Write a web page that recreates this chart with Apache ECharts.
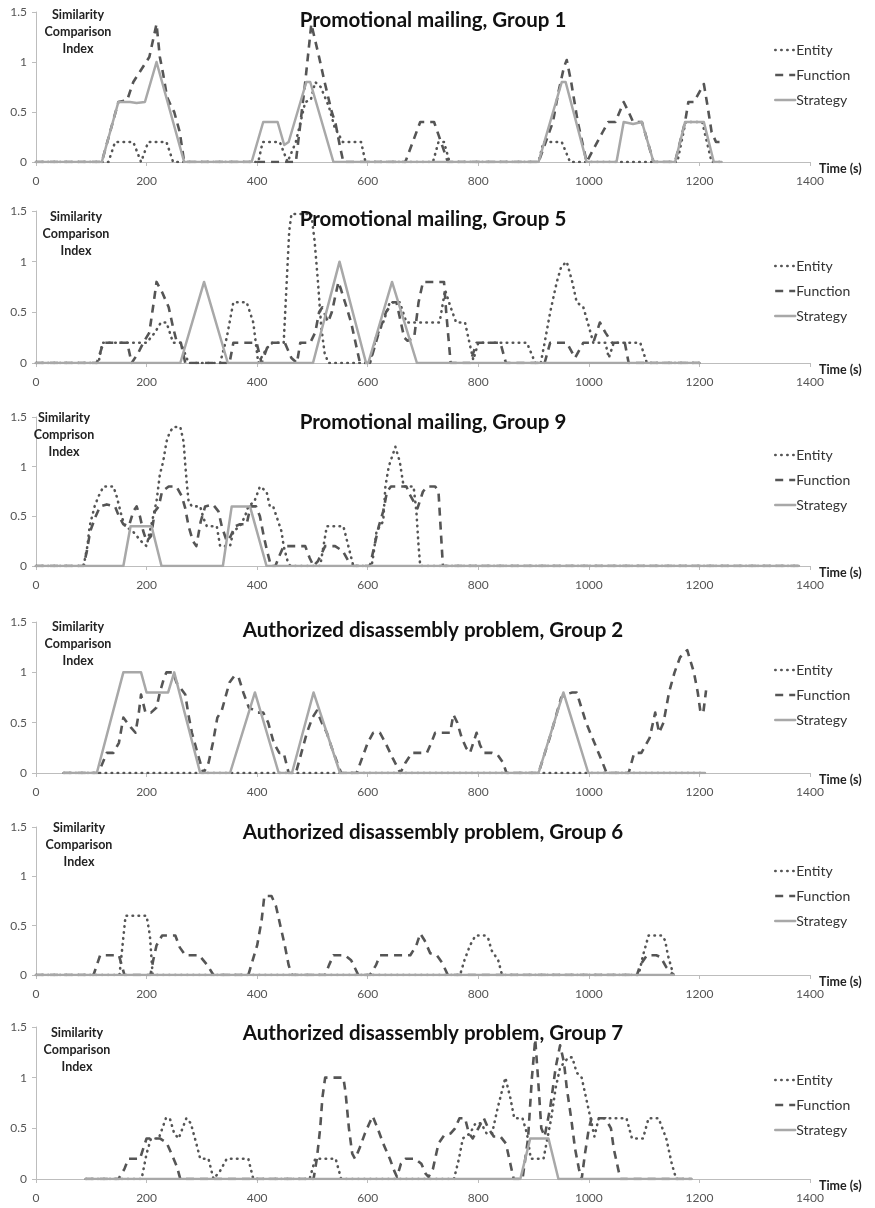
<!DOCTYPE html>
<html><head><meta charset="utf-8">
<script src="https://cdn.jsdelivr.net/npm/echarts@6/dist/echarts.min.js"></script>
<style>html,body{margin:0;padding:0;background:#fff}#c{width:875px;height:1208px}</style>
</head><body><div id="c"></div>
<script>
// ---------- text ----------
const panelTitles = [
  'Promotional mailing, Group 1',
  'Promotional mailing, Group 5',
  'Promotional mailing, Group 9',
  'Authorized disassembly problem, Group 2',
  'Authorized disassembly problem, Group 6',
  'Authorized disassembly problem, Group 7'
];
const yAxisNames = [
  'Similarity\nComparison\nIndex',
  'Similarity\nComparison\nIndex',
  'Similarity\nComprison\nIndex',
  'Similarity\nComparison\nIndex',
  'Similarity\nComparison\nIndex',
  'Similarity\nComparison\nIndex'
];
const seriesNames = ['Entity', 'Function', 'Strategy'];
const xAxisName = 'Time (s)';
const xTicks = [0, 200, 400, 600, 800, 1000, 1200, 1400];
const yTicks = [0, 0.5, 1, 1.5];

// ---------- data: [time (s), index] ----------
// Promotional mailing, Group 1
const g1Entity = [[0,0],[131,0],[143,0.2],[176,0.2],[190,0],[203,0.2],[236,0.2],[248,0],[402,0],[410,0.2],[441,0.2],[455,0],[470,0.2],[487,0.6],[497,0.62],[505,0.8],[515,0.75],[530,0.55],[540,0.35],[555,0.2],[588,0.2],[596,0],[718,0],[728,0.2],[738,0.2],[748,0],[909,0],[918,0.2],[951,0.2],[966,0],[1160,0],[1175,0.4],[1205,0.4],[1222,0],[1240,0]];
const g1Function = [[0,0],[119,0],[149,0.6],[165,0.62],[176,0.8],[205,1.05],[218,1.38],[224,1.05],[230,0.88],[237,0.65],[245,0.55],[250,0.5],[260,0.3],[268,0],[470,0],[487,0.8],[498,1.38],[512,1.05],[522,0.8],[535,0.5],[542,0.38],[550,0.15],[556,0],[668,0],[695,0.4],[720,0.4],[745,0],[909,0],[935,0.4],[945,0.7],[955,0.95],[960,1.02],[968,0.8],[980,0.4],[996,0],[1025,0.3],[1035,0.4],[1048,0.4],[1063,0.6],[1072,0.5],[1080,0.4],[1096,0.4],[1117,0],[1156,0],[1174,0.4],[1180,0.6],[1190,0.6],[1208,0.78],[1215,0.55],[1222,0.3],[1230,0.2],[1240,0.2]];
const g1Strategy = [[0,0],[119,0],[149,0.6],[170,0.6],[182,0.59],[197,0.6],[218,1.0],[268,0],[390,0],[411,0.4],[437,0.4],[449,0.17],[457,0.2],[489,0.8],[496,0.8],[538,0],[909,0],[951,0.8],[958,0.8],[996,0],[1050,0],[1063,0.4],[1080,0.38],[1096,0.4],[1117,0],[1156,0],[1174,0.4],[1208,0.4],[1226,0],[1240,0]];

// Promotional mailing, Group 5
const g5Entity = [[0,0],[113,0],[120,0.2],[200,0.2],[215,0.3],[226,0.4],[236,0.4],[248,0.2],[262,0.2],[276,0],[333,0],[345,0.25],[357,0.6],[381,0.6],[393,0.4],[402,0],[418,0.15],[428,0.2],[448,0.2],[458,1.3],[462,1.47],[498,1.47],[504,1.2],[510,0.8],[516,0.35],[522,0.1],[529,0],[604,0],[615,0.25],[628,0.4],[640,0.6],[658,0.6],[670,0.4],[730,0.4],[740,0.72],[750,0.55],[760,0.4],[776,0.4],[784,0.2],[791,0.03],[800,0.2],[888,0.2],[903,0],[913,0],[920,0.2],[930,0.5],[942,0.8],[950,0.95],[960,1.0],[970,0.8],[978,0.6],[990,0.55],[998,0.4],[1008,0.2],[1030,0.2],[1036,0.05],[1045,0.2],[1093,0.2],[1105,0],[1200,0]];
const g5Function = [[0,0],[110,0],[122,0.2],[165,0.2],[173,0],[185,0.1],[194,0.2],[205,0.3],[213,0.6],[218,0.8],[228,0.7],[240,0.55],[248,0.35],[255,0.2],[262,0.2],[270,0],[350,0],[357,0.2],[399,0.2],[408,0],[418,0.15],[426,0.2],[450,0.2],[462,0.05],[472,0],[478,0.2],[496,0.2],[505,0.3],[512,0.5],[518,0.55],[528,0.4],[535,0.5],[547,0.8],[552,0.72],[560,0.58],[570,0.4],[578,0.2],[586,0],[604,0],[620,0.3],[633,0.5],[645,0.6],[652,0.6],[660,0.4],[666,0.25],[672,0.22],[684,0.25],[692,0.6],[700,0.8],[722,0.8],[738,0.8],[742,0.5],[746,0.25],[750,0],[785,0],[797,0.2],[840,0.2],[850,0],[920,0],[930,0.2],[960,0.2],[975,0.05],[990,0.2],[1008,0.2],[1020,0.4],[1030,0.3],[1042,0.2],[1065,0.2],[1072,0],[1200,0]];
const g5Strategy = [[0,0],[261,0],[304,0.8],[347,0],[501,0],[549,1.0],[597,0],[601,0],[644,0.8],[689,0],[1200,0]];

// Promotional mailing, Group 9
const g9Entity = [[0,0],[86,0],[93,0.2],[97,0.4],[106,0.6],[113,0.7],[122,0.8],[140,0.8],[146,0.7],[155,0.5],[161,0.4],[175,0.35],[190,0.25],[200,0.2],[210,0.45],[218,0.65],[224,0.92],[230,1.05],[236,1.25],[242,1.35],[249,1.4],[261,1.4],[267,1.25],[270,1.02],[273,0.82],[276,0.65],[282,0.6],[297,0.6],[303,0.48],[309,0.4],[327,0.4],[333,0.2],[351,0.2],[357,0.35],[369,0.4],[378,0.5],[384,0.6],[395,0.65],[405,0.8],[417,0.75],[423,0.6],[429,0.6],[435,0.5],[444,0.35],[448,0.2],[455,0.05],[460,0],[514,0],[520,0.2],[526,0.4],[556,0.4],[565,0.2],[574,0],[607,0],[610,0.1],[616,0.35],[628,0.45],[632,0.8],[638,1.0],[650,1.2],[658,1.05],[665,0.8],[683,0.8],[688,0.55],[692,0.2],[695,0],[1380,0]];
const g9Function = [[0,0],[86,0],[92,0.15],[98,0.35],[108,0.5],[116,0.6],[128,0.62],[143,0.6],[150,0.5],[158,0.42],[168,0.4],[176,0.55],[182,0.6],[188,0.5],[194,0.35],[200,0.25],[208,0.3],[215,0.55],[222,0.6],[228,0.75],[240,0.8],[254,0.8],[264,0.7],[270,0.58],[276,0.4],[284,0.25],[290,0.2],[298,0.45],[306,0.6],[320,0.62],[330,0.55],[336,0.4],[345,0.25],[352,0.3],[360,0.4],[369,0.42],[381,0.42],[388,0.6],[398,0.6],[405,0.5],[412,0.3],[418,0.15],[425,0],[433,0],[440,0.1],[448,0.2],[460,0.2],[478,0.2],[487,0.2],[495,0.08],[502,0],[510,0.05],[523,0.2],[541,0.2],[555,0.15],[565,0.05],[574,0],[604,0],[612,0.2],[620,0.4],[628,0.55],[635,0.75],[642,0.8],[670,0.8],[676,0.72],[683,0.65],[690,0.58],[700,0.75],[708,0.8],[722,0.8],[728,0.75],[736,0],[1380,0]];
const g9Strategy = [[0,0],[158,0],[171,0.4],[209,0.4],[227,0],[338,0],[354,0.6],[387,0.6],[417,0],[1380,0]];

// Authorized disassembly problem, Group 2
const g2Entity = [[50,0],[1210,0]];
const g2Function = [[50,0],[113,0],[128,0.2],[140,0.2],[150,0.3],[158,0.55],[165,0.5],[172,0.45],[180,0.4],[186,0.6],[190,0.78],[198,0.6],[208,0.6],[218,0.65],[224,0.8],[232,0.95],[236,1.0],[248,1.0],[254,0.9],[270,0.78],[276,0.57],[282,0.4],[292,0.2],[300,0.05],[303,0],[312,0.1],[320,0.3],[328,0.55],[336,0.62],[350,0.9],[358,0.96],[366,0.96],[375,0.8],[385,0.65],[396,0.62],[400,0.6],[411,0.6],[420,0.5],[430,0.3],[440,0.2],[448,0.2],[457,0],[470,0],[480,0.2],[490,0.4],[500,0.55],[508,0.62],[517,0.5],[526,0.4],[535,0.25],[545,0.1],[552,0],[580,0],[590,0.15],[600,0.3],[610,0.4],[622,0.4],[632,0.3],[645,0.15],[659,0],[668,0.1],[680,0.2],[707,0.2],[715,0.3],[722,0.4],[749,0.4],[755,0.58],[762,0.5],[770,0.35],[778,0.25],[785,0.2],[797,0.4],[803,0.28],[810,0.2],[825,0.2],[835,0.18],[845,0.1],[851,0],[909,0],[932,0.4],[950,0.75],[958,0.78],[970,0.8],[978,0.8],[995,0.5],[1010,0.3],[1025,0.1],[1032,0],[1072,0],[1082,0.2],[1095,0.2],[1110,0.35],[1120,0.6],[1127,0.4],[1135,0.5],[1145,0.8],[1155,1.0],[1165,1.15],[1178,1.22],[1190,1.0],[1197,0.8],[1202,0.6],[1207,0.6],[1212,0.82]];
const g2Strategy = [[50,0],[110,0],[158,1.0],[190,1.0],[200,0.8],[239,0.8],[250,1.0],[297,0],[351,0],[396,0.8],[439,0],[463,0],[502,0.8],[550,0],[909,0],[954,0.8],[999,0],[1210,0]];

// Authorized disassembly problem, Group 6
const g6Entity = [[0,0],[151,0],[162,0.6],[200,0.6],[206,0.4],[211,0],[767,0],[775,0.15],[785,0.3],[795,0.4],[812,0.4],[818,0.37],[824,0.25],[830,0.2],[836,0.15],[843,0],[1090,0],[1098,0.2],[1108,0.4],[1132,0.4],[1138,0.35],[1143,0.2],[1153,0]];
const g6Function = [[0,0],[104,0],[116,0.2],[150,0.2],[155,0.1],[160,0],[207,0],[212,0.15],[218,0.3],[228,0.4],[252,0.4],[260,0.28],[270,0.2],[295,0.2],[310,0.1],[321,0],[384,0],[392,0.15],[400,0.3],[408,0.55],[413,0.8],[426,0.8],[434,0.7],[442,0.5],[450,0.3],[457,0.1],[463,0],[523,0],[530,0.1],[538,0.2],[559,0.2],[570,0.15],[583,0],[604,0],[615,0.1],[622,0.2],[677,0.2],[688,0.3],[695,0.42],[703,0.35],[713,0.22],[725,0.2],[735,0.12],[745,0],[1087,0],[1093,0.1],[1105,0.2],[1122,0.2],[1130,0.18],[1140,0.08],[1153,0]];
const g6Strategy = [[0,0],[1153,0]];

// Authorized disassembly problem, Group 7
const g7Entity = [[90,0],[191,0],[200,0.25],[208,0.4],[222,0.4],[235,0.6],[242,0.6],[250,0.45],[258,0.4],[265,0.5],[272,0.6],[280,0.55],[290,0.35],[297,0.2],[312,0.2],[321,0],[333,0.08],[345,0.2],[384,0.2],[393,0],[495,0],[505,0.2],[542,0.2],[552,0],[756,0],[765,0.2],[772,0.4],[785,0.45],[795,0.55],[805,0.55],[815,0.45],[825,0.45],[835,0.7],[849,1.0],[858,0.8],[865,0.6],[880,0.6],[888,0.45],[895,0.2],[918,0.2],[925,0.4],[932,0.6],[940,0.9],[948,1.1],[963,1.2],[970,1.2],[978,1.05],[987,1.0],[995,0.8],[1003,0.6],[1010,0.42],[1018,0.6],[1068,0.6],[1078,0.4],[1098,0.4],[1108,0.6],[1126,0.6],[1140,0.4],[1150,0.15],[1158,0],[1186,0]];
const g7Function = [[90,0],[149,0],[160,0.1],[167,0.2],[188,0.2],[200,0.4],[224,0.4],[236,0.36],[245,0.25],[255,0.12],[261,0],[502,0],[508,0.2],[514,0.5],[518,0.8],[523,1.0],[556,1.0],[560,0.85],[566,0.5],[572,0.25],[577,0.2],[585,0.3],[595,0.45],[603,0.55],[609,0.62],[618,0.5],[628,0.35],[640,0.2],[648,0.08],[653,0.02],[660,0.15],[668,0.2],[686,0.2],[697,0.15],[705,0.05],[710,0.02],[718,0.1],[728,0.35],[738,0.43],[750,0.45],[758,0.5],[766,0.6],[776,0.6],[783,0.45],[790,0.4],[800,0.5],[810,0.6],[818,0.5],[828,0.42],[840,0.42],[850,0.35],[858,0.15],[864,0],[880,0],[890,0.4],[897,1.0],[903,1.38],[908,1.0],[914,0.5],[920,0.42],[930,0.7],[940,1.1],[948,1.32],[955,1.15],[960,0.9],[968,0.6],[975,0.3],[982,0.1],[987,0],[993,0.25],[1000,0.5],[1005,0.6],[1030,0.6],[1040,0.5],[1045,0.3],[1053,0.1],[1057,0],[1186,0]];
const g7Strategy = [[90,0],[876,0],[894,0.4],[927,0.4],[945,0],[1186,0]];

const panelData = [
  [g1Entity, g1Function, g1Strategy],
  [g5Entity, g5Function, g5Strategy],
  [g9Entity, g9Function, g9Strategy],
  [g2Entity, g2Function, g2Strategy],
  [g6Entity, g6Function, g6Strategy],
  [g7Entity, g7Function, g7Strategy]
];

// ---------- layout & style ----------
const FONT = 'Lato, "Open Sans", sans-serif';
const layout = {
  gridLeft: 36, gridRight: 65,
  tops: [12, 211, 417, 622, 827, 1027],
  heights: [150, 152, 149, 151, 148, 152],
  titleCY: [20, 219, 422, 630, 832, 1033],
  titleCX: 433,
  nameCY: [15, 217, 418, 627, 828, 1033],
  nameCX: [78, 76, 64, 78, 79, 77],
  legendCY: [50, 266, 455, 670, 871, 1080]
};
const lineStyles = {
  Entity:   { color: '#555555', width: 2.6, type: [0.5, 5.5], cap: 'round', join: 'round' },
  Function: { color: '#555555', width: 2.6, type: [8, 6], cap: 'butt', join: 'round' },
  Strategy: { color: '#a8a8a8', width: 2.5, type: 'solid', cap: 'round', join: 'round' }
};
const axisGray = '#bdbdbd';

const option = {
  animation: false,
  backgroundColor: '#ffffff',
  title: [], legend: [], grid: [], xAxis: [], yAxis: [], series: []
};

panelTitles.forEach((t, i) => {
  option.grid.push({ left: layout.gridLeft, right: layout.gridRight, top: layout.tops[i], height: layout.heights[i], containLabel: false });
  option.title.push({
    text: t, left: layout.titleCX, top: layout.titleCY[i] - 12, textAlign: 'center', padding: 0,
    textStyle: { fontFamily: FONT, fontWeight: 'bold', fontSize: 20.5, lineHeight: 24, color: '#111' }
  });
  option.title.push({
    text: yAxisNames[i], left: layout.nameCX[i], top: layout.nameCY[i] - 8.5, textAlign: 'center', padding: 0,
    textStyle: { fontFamily: FONT, fontWeight: 'bold', fontSize: 12.5, lineHeight: 17, color: '#222' }
  });
  option.legend.push({
    orient: 'vertical', left: 774, top: layout.legendCY[i] - 7,
    itemWidth: 20, itemHeight: 14, itemGap: 11, selectedMode: false, padding: 0,
    itemStyle: { opacity: 0 },
    textStyle: { fontFamily: FONT, fontSize: 14, color: '#333', padding: [0, 0, 0, -4] },
    data: seriesNames.map(n => ({ name: n, lineStyle: Object.assign({}, lineStyles[n], { width: 2.4 }), itemStyle: { opacity: 0 } }))
  });
  option.xAxis.push({
    type: 'value', gridIndex: i, min: xTicks[0], max: xTicks[xTicks.length - 1], interval: xTicks[1] - xTicks[0],
    name: xAxisName, nameLocation: 'end', nameGap: 9,
    nameTextStyle: { fontFamily: FONT, fontWeight: 'bold', fontSize: 12.5, color: '#222', verticalAlign: 'top', align: 'left', padding: [0, 0, 0, 0] },
    axisLine: { show: true, onZero: false, lineStyle: { color: axisGray, width: 1 } },
    axisTick: { show: true, length: 4, lineStyle: { color: axisGray } },
    axisLabel: { fontFamily: FONT, fontSize: 12, color: '#555', margin: 13, formatter: v => String(v) },
    splitLine: { show: false }
  });
  option.yAxis.push({
    type: 'value', gridIndex: i, min: yTicks[0], max: yTicks[yTicks.length - 1], interval: yTicks[1] - yTicks[0],
    axisLine: { show: true, lineStyle: { color: axisGray, width: 1 } },
    axisTick: { show: true, length: 4, lineStyle: { color: axisGray } },
    axisLabel: { fontFamily: FONT, fontSize: 12, color: '#555', margin: 9, formatter: v => String(v) },
    splitLine: { show: false }
  });
  seriesNames.forEach((n, k) => {
    option.series.push({
      type: 'line', name: n, xAxisIndex: i, yAxisIndex: i,
      data: panelData[i][k], symbol: 'none', showSymbol: false, silent: true,
      lineStyle: lineStyles[n], z: 2 + k, emphasis: { disabled: true }
    });
  });
});

const chart = echarts.init(document.getElementById('c'), null, { renderer: 'canvas' });
chart.setOption(option);
</script>
</body></html>
